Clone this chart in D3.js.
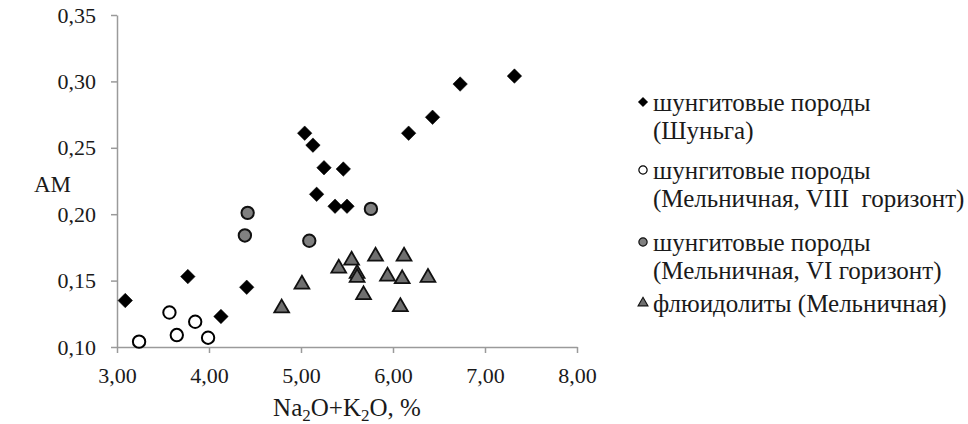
<!DOCTYPE html>
<html lang="ru">
<head>
    <meta charset="utf-8">
    <style>
        body { margin: 0; background: #fff; }
        svg { display: block; }
        svg text { font-family: "Liberation Serif", "Times New Roman", "DejaVu Serif", serif; fill: #1a1a1a; }
    </style>
</head>
<body>
    <svg width="968" height="424"></svg>
    <script src="https://cdn.jsdelivr.net/npm/d3@7/dist/d3.min.js"></script>
    <script>
        // ---- data ----
        const shungaX = [3.09, 3.77, 4.13, 4.41, 5.04, 5.13, 5.25, 5.46, 5.17, 5.37, 5.50, 6.17, 6.43, 6.73, 7.32];
        const shungaY = [0.135, 0.153, 0.123, 0.145, 0.261, 0.252, 0.235, 0.234, 0.215, 0.206, 0.206, 0.261, 0.273, 0.298, 0.304];

        const mel8X = [3.24, 3.57, 3.65, 3.85, 3.99];
        const mel8Y = [0.104, 0.126, 0.109, 0.119, 0.107];

        const mel6X = [4.42, 4.39, 5.09, 5.76];
        const mel6Y = [0.201, 0.184, 0.180, 0.204];

        const fluidX = [4.79, 5.01, 5.41, 5.55, 5.61, 5.61, 5.68, 5.81, 5.94, 6.08, 6.10, 6.12, 6.38];
        const fluidY = [0.130, 0.148, 0.160, 0.166, 0.156, 0.153, 0.140, 0.169, 0.154, 0.131, 0.152, 0.169, 0.153];

        const xTicks = [3, 4, 5, 6, 7, 8];
        const yTicks = [0.10, 0.15, 0.20, 0.25, 0.30, 0.35];

        const seriesNames = [
            ["шунгитовые породы", "(Шуньга)"],
            ["шунгитовые породы", "(Мельничная, VIII  горизонт)"],
            ["шунгитовые породы", "(Мельничная, VI горизонт)"],
            ["флюидолиты (Мельничная)"]
        ];

        // ---- layout ----
        const svg = d3.select("svg");
        const plot = { left: 117, right: 577, top: 15, bottom: 347 };

        const x = d3.scaleLinear().domain([3, 8]).range([plot.left, plot.right]);
        const y = d3.scaleLinear().domain([0.10, 0.35]).range([plot.bottom, plot.top]);

        const fmt = v => d3.format(".2f")(v).replace(".", ",");
        const axisColor = "#9a9a9a";
        const serif = '"Liberation Serif", "Times New Roman", serif';

        // y axis
        const yAxis = svg.append("g")
            .attr("transform", `translate(${plot.left},0)`)
            .call(d3.axisLeft(y).tickValues(yTicks).tickFormat(fmt).tickSize(6).tickSizeOuter(0).tickPadding(15));
        // x axis
        const xAxis = svg.append("g")
            .attr("transform", `translate(0,${plot.bottom})`)
            .call(d3.axisBottom(x).tickValues(xTicks).tickFormat(fmt).tickSize(6).tickSizeOuter(0).tickPadding(14));

        [xAxis, yAxis].forEach(a => {
            a.attr("font-family", serif);
            a.select(".domain").attr("stroke", axisColor).attr("stroke-width", 1.5);
            a.selectAll(".tick line").attr("stroke", axisColor).attr("stroke-width", 1.5);
            a.selectAll(".tick text").style("font-size", "22px").attr("fill", "#1a1a1a");
        });

        // axis titles
        svg.append("text").attr("x", 34).attr("y", 192).style("font-size", "23px").text("AM");

        const xt = svg.append("text").attr("x", 347).attr("y", 416)
            .attr("text-anchor", "middle").style("font-size", "25px");
        xt.append("tspan").text("Na");
        xt.append("tspan").attr("dy", 5).style("font-size", "17px").text("2");
        xt.append("tspan").attr("dy", -5).text("O+K");
        xt.append("tspan").attr("dy", 5).style("font-size", "17px").text("2");
        xt.append("tspan").attr("dy", -5).text("O, %");

        // ---- marks ----
        const styles = [
            { type: d3.symbolSquare, size: 105, rotate: 45, fill: "#000", stroke: "#000", sw: 0.5 },
            { type: d3.symbolCircle, size: 120, rotate: 0, fill: "#fff", stroke: "#000", sw: 2 },
            { type: d3.symbolCircle, size: 120, rotate: 0, fill: "#808080", stroke: "#111", sw: 2 },
            { type: d3.symbolTriangle, size: 95, rotate: 0, fill: "#6f6f6f", stroke: "#111", sw: 1.8 }
        ];
        const seriesX = [shungaX, mel8X, mel6X, fluidX];
        const seriesY = [shungaY, mel8Y, mel6Y, fluidY];

        const marks = svg.append("g");
        // draw order: triangles, grey circles, open circles, diamonds on top
        [3, 2, 1, 0].forEach(si => {
            const st = styles[si];
            const pts = seriesX[si].map((v, i) => [v, seriesY[si][i]]);
            marks.append("g").selectAll("path")
                .data(pts)
                .join("path")
                .attr("d", d3.symbol().type(st.type).size(st.size))
                .attr("transform", d => `translate(${x(d[0])},${y(d[1]) + (st.type === d3.symbolTriangle ? 1 : 0)}) rotate(${st.rotate})`)
                .attr("fill", st.fill)
                .attr("stroke", st.stroke)
                .attr("stroke-width", st.sw);
        });

        // ---- legend ----
        const legendRows = [102, 170, 242, 303];
        const legend = svg.append("g");
        seriesNames.forEach((lines, i) => {
            const st = styles[i];
            const ly = legendRows[i];
            legend.append("path")
                .attr("d", d3.symbol().type(st.type).size(st.size * 0.45))
                .attr("transform", `translate(643,${ly}) rotate(${st.rotate})`)
                .attr("fill", st.fill)
                .attr("stroke", st.stroke)
                .attr("stroke-width", st.sw * 0.6);
            lines.forEach((t, j) => {
                legend.append("text")
                    .attr("x", 653)
                    .attr("y", ly + 9 + j * 28)
                    .style("font-size", "25px")
                    .style("white-space", "pre")
                    .text(t);
            });
        });
    </script>
</body>
</html>
